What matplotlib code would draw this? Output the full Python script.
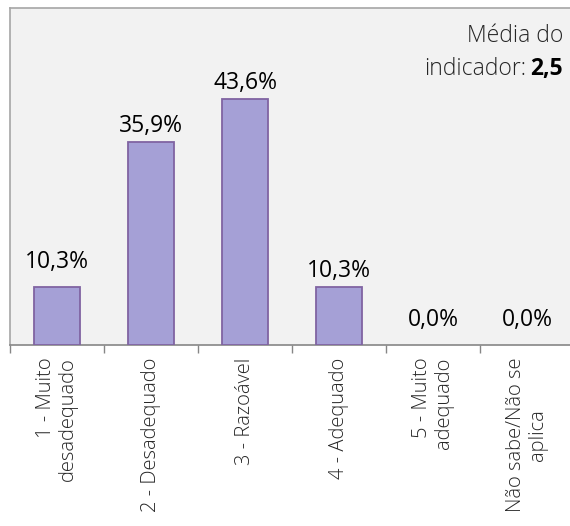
import matplotlib
matplotlib.use("Agg")
import matplotlib.pyplot as plt

categories = ["1 - Muito\ndesadequado", "2 - Desadequado", "3 - Razoável",
              "4 - Adequado", "5 - Muito\nadequado", "Não sabe/Não se\naplica"]
values = [10.3, 35.9, 43.6, 10.3, 0.0, 0.0]
labels = ["10,3%", "35,9%", "43,6%", "10,3%", "0,0%", "0,0%"]
mean_value = "2,5"

# label offsets (points) as placed in the original
label_offsets = [9.5, 3, 3, 3, 9.5, 9.5]

plt.rcParams['font.family'] = ['Open Sans', 'DejaVu Sans']

fig = plt.figure(figsize=(5.7, 5.26), dpi=100)
ax = fig.add_axes([10/570, 181/526, 564/570, 337/526])
ax.set_facecolor("#f2f2f2")

x = list(range(len(categories)))
lws = [1.3 if v > 0 else 0 for v in values]
ax.bar(x, values, width=0.48, color="#a5a0d6", edgecolor="#8064a2", linewidth=lws, zorder=3)
for xi, v, lab, off in zip(x, values, labels, label_offsets):
    ax.annotate(lab, (xi, v), xytext=(0, off), textcoords="offset points",
                ha="center", va="bottom", fontsize=16.5, color="black")

ax.set_xlim(-0.5, len(categories) - 0.5)
ax.set_ylim(0, 59.7)
ax.set_yticks([])
ax.set_xticks([i - 0.5 for i in range(len(categories) + 1)], minor=False)
ax.set_xticklabels([])
ax.tick_params(axis="x", which="major", length=6, color="#868686", width=1)
ax.set_xticks(x, minor=True)
ax.set_xticklabels(categories, minor=True, rotation=90, fontsize=14.5, color="#262626",
                   fontweight="light")
ax.tick_params(axis="x", which="minor", length=0, pad=9)
for t, cat in zip(ax.get_xticklabels(minor=True), categories):
    t.set_va("top")
    t.set_ha("center")
    t.set_multialignment("center" if cat.startswith("Não") else "right")
    t.set_linespacing(1.15)

for side in ["top", "left", "right"]:
    ax.spines[side].set_color("#a6a6a6")
    ax.spines[side].set_linewidth(1.2)
ax.spines["bottom"].set_color("#868686")
ax.spines["bottom"].set_linewidth(1.2)

fig.text(563/570, 1 - 36/526, "Média do", ha="right", va="center", fontsize=16.5,
         color="#262626", fontweight="light")
t1 = fig.text(563/570, 1 - 69/526, mean_value, ha="right", va="center", fontsize=16.5,
              fontweight="bold", color="black")
fig.canvas.draw()
bb = t1.get_window_extent()
fig.text((bb.x0 - 4) / fig.bbox.width, 1 - 69/526, "indicador:", ha="right", va="center",
         fontsize=16.5, color="#262626", fontweight="light")

fig.savefig("out.png", dpi=100)
